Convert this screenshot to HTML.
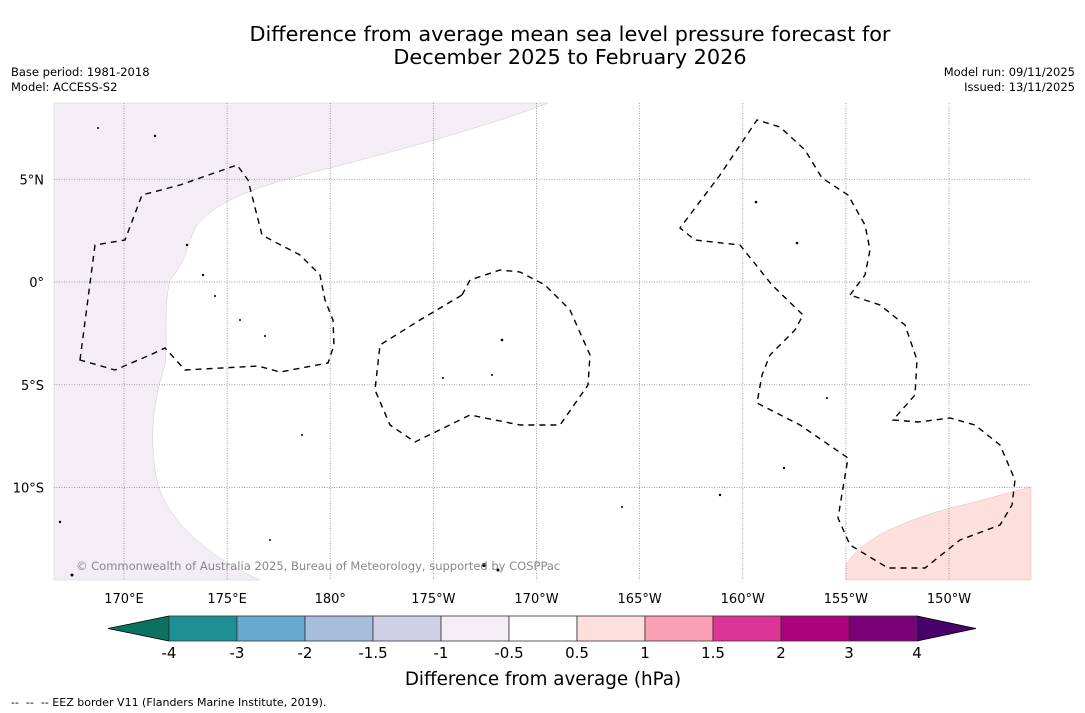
<!DOCTYPE html>
<html><head><meta charset="utf-8">
<style>
body{margin:0;background:#fff;width:1085px;height:713px;overflow:hidden;font-family:"DejaVu Sans","Liberation Sans",sans-serif;}
svg{display:block}
</style></head>
<body>
<svg id="chart" width="1085" height="713" viewBox="0 0 1085 713">
<text x="570" y="41" text-anchor="middle" font-size="20.8">Difference from average mean sea level pressure forecast for</text>
<text x="570" y="64" text-anchor="middle" font-size="20.8">December 2025 to February 2026</text>
<text x="11" y="76" font-size="11.5">Base period: 1981-2018</text>
<text x="11" y="91" font-size="11.5">Model: ACCESS-S2</text>
<text x="1075" y="76" font-size="11.5" text-anchor="end">Model run: 09/11/2025</text>
<text x="1075" y="91" font-size="11.5" text-anchor="end">Issued: 13/11/2025</text>
<g id="map">
<rect x="54" y="103" width="977" height="477" fill="#fff"/>
<path d="M548,103 C500,122 420,145 330,168 C260,185 215,200 195,228 C186,250 185,262 170,280 C163,310 168,340 165,365 C150,410 150,450 158,485 C170,525 215,560 260,580 L54,580 L54,103 Z" fill="#f3eef6" stroke="#ccc" stroke-width="0.5"/>
<path d="M846,580 L846,565 C860,540 900,522 950,508 C985,500 1010,492 1031,487 L1031,580 Z" fill="#fde0dd" stroke="#e6b8b5" stroke-width="0.5"/>
<g id="grid"></g>
<g fill="none" stroke="#000" stroke-width="1.4" stroke-dasharray="6,5">
<path d="M80,360 L95,245 L125,240 L142,195 L180,185 L237,165 L248,180 L262,235 L275,242 L300,255 L320,275 L325,300 L333,320 L334,345 L328,363 L280,372 L258,366 L185,370 L165,348 L150,355 L115,370 Z"/>
<path d="M462,295 L470,280 L500,270 L520,272 L545,285 L570,310 L590,355 L588,385 L560,425 L520,425 L470,415 L415,442 L390,425 L375,390 L380,345 L420,320 Z"/>
<path d="M850,295 L865,275 L870,250 L865,225 L848,195 L822,178 L805,150 L780,127 L757,120 L720,175 L680,228 L695,240 L740,245 L752,260 L772,285 L803,315 L795,330 L770,355 L762,375 L757,403 L800,425 L848,458 L838,518 L850,545 L888,568 L925,568 L960,540 L1000,525 L1012,505 L1015,480 L1000,445 L975,425 L950,418 L918,422 L893,420 L915,395 L917,360 L905,325 L880,305 Z"/>
</g>
<g fill="#000">
<circle cx="187" cy="245" r="1.2"/><circle cx="203" cy="275" r="1.2"/><circle cx="215" cy="296" r="1"/><circle cx="240" cy="320" r="1"/><circle cx="265" cy="336" r="1"/><circle cx="502" cy="340" r="1.3"/><circle cx="492" cy="375" r="1"/><circle cx="443" cy="378" r="1"/><circle cx="756" cy="202" r="1.3"/><circle cx="797" cy="243" r="1.3"/><circle cx="784" cy="468" r="1.2"/><circle cx="720" cy="495" r="1.2"/><circle cx="827" cy="398" r="1"/><circle cx="484" cy="565" r="2"/><circle cx="498" cy="570" r="1.5"/><circle cx="60" cy="522" r="1.2"/><circle cx="72" cy="575" r="1.5"/><circle cx="155" cy="136" r="1.2"/><circle cx="98" cy="128" r="1"/><circle cx="302" cy="435" r="1"/><circle cx="622" cy="507" r="1"/><circle cx="270" cy="540" r="1"/>
</g>
<text x="76" y="570" font-size="11.5" fill="#888">© Commonwealth of Australia 2025, Bureau of Meteorology, supported by COSPPac</text>
</g>
<g id="axes" font-size="13"></g>
<g id="cbar"></g>
<text x="543" y="685" text-anchor="middle" font-size="18.3">Difference from average (hPa)</text>
<text x="11" y="706" font-size="11" style="white-space:pre">--  --  -- EEZ border V11 (Flanders Marine Institute, 2019).</text>
</svg>
<script>
const lonTicks=[170,175,180,-175,-170,-165,-160,-155,-150];
const lonLabels=["170°E","175°E","180°","175°W","170°W","165°W","160°W","155°W","150°W"];
const latTicks=[5,0,-5,-10];
const latLabels=["5°N","0°","5°S","10°S"];
const cbLevels=[-4,-3,-2,-1.5,-1,-0.5,0.5,1,1.5,2,3,4];
const cbLabels=["-4","-3","-2","-1.5","-1","-0.5","0.5","1","1.5","2","3","4"];
const cbColors=["#1e8f93","#67a9cf","#a6bddb","#d0d1e6","#f3eef6","#ffffff","#fde0dd","#fa9fb5","#dd3497","#ae017e","#7a0177"];
const cbExtendColors=["#0b7160","#49006a"];
const NS="http://www.w3.org/2000/svg";
function mk(t,a,p){const e=document.createElementNS(NS,t);for(const k in a)e.setAttribute(k,a[k]);p.appendChild(e);return e;}
function xLon(l){const e=l<0?l+360:l;return 124+(e-170)*20.625;}
function yLat(l){return 282-l*20.55;}
const grid=document.getElementById('grid'),axes=document.getElementById('axes');
lonTicks.forEach((l,i)=>{const x=xLon(l);
const g=mk('line',{x1:x,x2:x,y1:103,y2:580,stroke:'#888','stroke-width':0.8,'stroke-dasharray':'1,1.5'},grid);


const t=mk('text',{x:x,y:603,'text-anchor':'middle'},axes);t.textContent=lonLabels[i];

});
latTicks.forEach((l,i)=>{const y=yLat(l);
const g=mk('line',{x1:54,x2:1031,y1:y,y2:y,stroke:'#888','stroke-width':0.8,'stroke-dasharray':'1,1.5'},grid);


const t=mk('text',{x:44,y:y+5,'text-anchor':'end'},axes);t.textContent=latLabels[i];

});
const cb=document.getElementById('cbar');const y0=616,h=25,x0=169,w=68;
function cx(i){return x0+i*w;}
const n=cbLevels.length;
const lt=mk('polygon',{points:`${cx(0)},${y0} ${cx(0)},${y0+h} 108,${y0+h/2}`,fill:cbExtendColors[0],stroke:'#000','stroke-width':0.8},cb);


const rt=mk('polygon',{points:`${cx(n-1)},${y0} ${cx(n-1)},${y0+h} 976,${y0+h/2}`,fill:cbExtendColors[1],stroke:'#000','stroke-width':0.8},cb);


cbColors.forEach((c,i)=>{const r=mk('rect',{x:cx(i),y:y0,width:w,height:h,fill:c,stroke:'#333','stroke-width':0.8},cb);

});
cbLevels.forEach((v,i)=>{const t=mk('text',{x:cx(i),y:658,'text-anchor':'middle','font-size':15},cb);t.textContent=cbLabels[i];

});
</script>
</body></html>
